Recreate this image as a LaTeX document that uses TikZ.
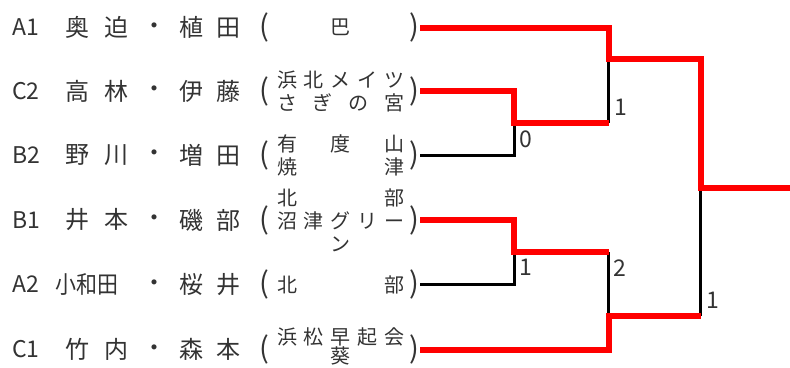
\documentclass[tikz,border=0pt]{standalone}
\usepackage{fontspec}
\setmainfont{Noto Sans CJK JP}
\usepackage{graphicx}
\usepackage{xcolor}
\definecolor{ink}{gray}{0.2}

\tikzset{
  win/.style={draw=red, line width=6pt},
  lose/.style={draw=black, line width=3pt},
  seed/.style={anchor=west, inner sep=0pt, text=ink, font=\fontsize{23}{26}\selectfont},
  pname/.style={inner sep=0pt, text=ink, font=\fontsize{24}{26}\selectfont},
  club/.style={inner sep=0pt, align=center, text=ink, font=\fontsize{20}{23}\selectfont},
  paren/.style={inner sep=0pt, text=ink, font=\fontsize{29}{30}\selectfont},
  score/.style={inner sep=0pt, text=ink, font=\fontsize{23}{26}\selectfont},
}
\newcommand{\clubline}[1]{\makebox[127pt][s]{#1}}
% [#1 club lift], #2 key, #3 y, #4 seed, #5 first name, #6 second name, #7 club
\newcommand{\player}[7][0pt]{
  \node[seed] (#2seed) at (12,#3) {#4};
  \node[pname] (#2first) at (97,#3) {\makebox[63pt][s]{#5}};
  \node[pname] (#2dot) at (154,#3+1) {・};
  \node[pname] (#2second) at (210,#3) {\makebox[62pt][s]{#6}};
  \node[paren] (#2open) at (264,#3) {(};
  \node[club, yshift=#1] (#2club) at (340.5,#3) {#7};
  \node[paren] (#2close) at (414,#3) {)};
  \coordinate (#2out) at (420,#3);
}

\begin{document}
\begin{tikzpicture}[x=1pt,y=-1pt]
\useasboundingbox (0,0) rectangle (790,367);

% entries
\player{A1}{27.5}{A1}{奥\hfill 迫}{植\hfill 田}{\clubline{\hfill 巴\hfill}}
\player{C2}{91}{C2}{高\hfill 林}{伊\hfill 藤}{\clubline{浜\hfill 北\hfill メ\hfill イ\hfill ツ}\\ \clubline{さ\hfill ぎ\hfill の\hfill 宮}}
\player{B2}{155}{B2}{野\hfill 川}{増\hfill 田}{\clubline{有\hfill 度\hfill 山}\\ \clubline{焼\hfill 津}}
\player{B1}{220}{B1}{井\hfill 本}{磯\hfill 部}{\clubline{北\hfill 部}\\ \clubline{沼\hfill 津\hfill グ\hfill リ\hfill ー}\\ ン}
\player{A2}{284.5}{A2}{\hspace*{-10pt}\scalebox{0.875}[1]{小和田}\hfill}{桜\hfill 井}{\clubline{北\hfill 部}}
\player[3.5pt]{C1}{349.5}{C1}{竹\hfill 内}{森\hfill 本}{\clubline{浜\hfill 松\hfill 早\hfill 起\hfill 会}\\[-4pt] 葵}

% bracket joints
\coordinate (m1) at (514,123);
\coordinate (m2) at (514,252);
\coordinate (s1) at (608.5,58.5);
\coordinate (s2) at (608.5,316);
\coordinate (f) at (700.5,188);
\coordinate (champ) at (790,188);

\draw[lose] (B2out) -| (m1);
\draw[lose] (A2out) -| (m2);
\draw[lose] (m1 -| s1) -- (s1);
\draw[lose] (m2 -| s2) -- (s2);
\draw[lose] (f) -- (s2 -| f);

\draw[win] (A1out) -| (s1) -| (f) -- (champ);
\draw[win] (C2out) -| (m1) -- (m1 -| s1);
\draw[win] (B1out) -| (m2) -- (m2 -| s2);
\draw[win] (C1out) -| (s2) -- (s2 -| f);

% scores
\node[score] (m1score) at (526,139) {0};
\node[score] (m2score) at (526,267) {1};
\node[score] (s1score) at (621,107) {1};
\node[score] (s2score) at (620,268) {2};
\node[score] (fscore) at (713,300) {1};
\end{tikzpicture}
\end{document}
